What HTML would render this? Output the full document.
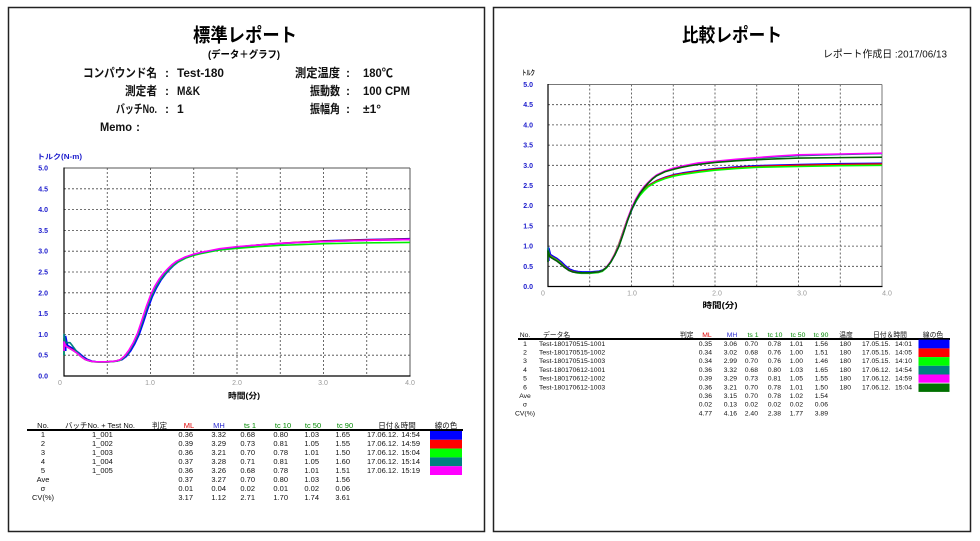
<!DOCTYPE html>
<html><head><meta charset="utf-8"><style>
html,body{margin:0;padding:0;background:#fff;}
svg{display:block;}
text{font-family:"Liberation Sans","Noto Sans CJK JP",sans-serif;}
.b{font-weight:bold;}
.yt{font-size:7px;font-weight:bold;fill:#1a1acc;text-anchor:end;}
.xt{font-size:7px;fill:#999;text-anchor:middle;}
.grid line{stroke:#444;stroke-width:0.8;stroke-dasharray:2,2;}
.cv polyline{fill:none;stroke-width:1.6;vector-effect:non-scaling-stroke;stroke-linejoin:round;}
.lt{font-size:7.5px;fill:#111;}
.rt{font-size:6.8px;fill:#111;}
.e{text-anchor:end;}
.m{text-anchor:middle;}
</style></head><body>
<svg width="980" height="541" viewBox="0 0 980 541" xmlns="http://www.w3.org/2000/svg">
<rect x="0" y="0" width="980" height="541" fill="#fff"/>
<!-- panels -->
<rect x="8.5" y="7.5" width="476" height="524" fill="#fff" stroke="#222" stroke-width="1.5"/>
<rect x="493.5" y="7.5" width="477" height="524" fill="#fff" stroke="#222" stroke-width="1.5"/>

<!-- ============ LEFT PANEL ============ -->
<text x="245" y="41.5" class="b m" font-size="19" textLength="104" lengthAdjust="spacingAndGlyphs">標準レポート</text>
<text x="244" y="58" class="b m" font-size="10" textLength="72" lengthAdjust="spacingAndGlyphs">(データ＋グラフ)</text>

<g font-size="12" font-weight="bold" fill="#111">
<text x="83" y="77" textLength="74" lengthAdjust="spacingAndGlyphs">コンパウンド名</text>
<text x="165" y="77">:</text>
<text x="177" y="77" textLength="47" lengthAdjust="spacingAndGlyphs">Test-180</text>
<text x="125" y="95" textLength="32" lengthAdjust="spacingAndGlyphs">測定者</text>
<text x="165" y="95">:</text>
<text x="177" y="95" textLength="23" lengthAdjust="spacingAndGlyphs">M&amp;K</text>
<text x="116" y="113" textLength="41" lengthAdjust="spacingAndGlyphs">バッチNo.</text>
<text x="165" y="113">:</text>
<text x="177" y="113">1</text>
<text x="100" y="131" textLength="32" lengthAdjust="spacingAndGlyphs">Memo</text>
<text x="136" y="131">:</text>
<text x="295" y="77" textLength="45" lengthAdjust="spacingAndGlyphs">測定温度</text>
<text x="346" y="77">:</text>
<text x="363" y="77" textLength="30" lengthAdjust="spacingAndGlyphs">180℃</text>
<text x="310" y="95" textLength="30" lengthAdjust="spacingAndGlyphs">振動数</text>
<text x="346" y="95">:</text>
<text x="363" y="95" textLength="47" lengthAdjust="spacingAndGlyphs">100 CPM</text>
<text x="310" y="113" textLength="30" lengthAdjust="spacingAndGlyphs">振幅角</text>
<text x="346" y="113">:</text>
<text x="363" y="113" font-family="Liberation Sans, sans-serif">±1°</text>
</g>

<text x="37" y="159" font-size="7" font-weight="bold" fill="#1a1acc" textLength="45" lengthAdjust="spacingAndGlyphs">トルク(N-m)</text>
<g>
<text class="yt" x="48" y="378.5">0.0</text>
<text class="yt" x="48" y="357.7">0.5</text>
<text class="yt" x="48" y="336.9">1.0</text>
<text class="yt" x="48" y="316.1">1.5</text>
<text class="yt" x="48" y="295.3">2.0</text>
<text class="yt" x="48" y="274.5">2.5</text>
<text class="yt" x="48" y="253.7">3.0</text>
<text class="yt" x="48" y="232.9">3.5</text>
<text class="yt" x="48" y="212.1">4.0</text>
<text class="yt" x="48" y="191.3">4.5</text>
<text class="yt" x="48" y="170.5">5.0</text>
</g>
<g class="grid">
<line x1="107.25" y1="168" x2="107.25" y2="376"/><line x1="150.5" y1="168" x2="150.5" y2="376"/>
<line x1="193.75" y1="168" x2="193.75" y2="376"/><line x1="237" y1="168" x2="237" y2="376"/>
<line x1="280.25" y1="168" x2="280.25" y2="376"/><line x1="323.5" y1="168" x2="323.5" y2="376"/>
<line x1="366.75" y1="168" x2="366.75" y2="376"/>
<line x1="64" y1="355.2" x2="410" y2="355.2"/><line x1="64" y1="334.4" x2="410" y2="334.4"/>
<line x1="64" y1="313.6" x2="410" y2="313.6"/><line x1="64" y1="292.8" x2="410" y2="292.8"/>
<line x1="64" y1="272" x2="410" y2="272"/><line x1="64" y1="251.2" x2="410" y2="251.2"/>
<line x1="64" y1="230.4" x2="410" y2="230.4"/><line x1="64" y1="209.6" x2="410" y2="209.6"/>
<line x1="64" y1="188.8" x2="410" y2="188.8"/>
</g>
<line x1="64" y1="168" x2="410" y2="168" stroke="#555" stroke-width="1"/>
<line x1="410" y1="168" x2="410" y2="376" stroke="#555" stroke-width="1"/>
<line x1="64" y1="167.5" x2="64" y2="376.5" stroke="#000" stroke-width="1.2"/>
<line x1="63.5" y1="376" x2="410.5" y2="376" stroke="#000" stroke-width="1.2"/>

<g class="cv" transform="translate(64,376) scale(86.5,-41.6)">
<polyline stroke="#0000ff" transform="translate(0.02,0)" points="0,0.6 0,0.95 0.02,0.74 0.05,0.7 0.1,0.64 0.15,0.56 0.2,0.47 0.25,0.4 0.3,0.36 0.35,0.345 0.4,0.34 0.5,0.34 0.6,0.36 0.65,0.39 0.7,0.47 0.75,0.6 0.8,0.78 0.85,1.0 0.9,1.3 0.95,1.62 1.0,1.9 1.05,2.12 1.1,2.3 1.15,2.44 1.2,2.56 1.25,2.66 1.3,2.74 1.4,2.85 1.5,2.92 1.6,2.97 1.7,3.01 1.8,3.05 2.0,3.1 2.25,3.15 2.5,3.19 2.75,3.22 3.0,3.25 3.5,3.28 3.98,3.3"/>
<polyline stroke="#ff0000" points="0,0.6 0,0.9 0.02,0.72 0.05,0.69 0.1,0.63 0.15,0.56 0.2,0.47 0.25,0.4 0.3,0.36 0.35,0.345 0.4,0.34 0.5,0.34 0.6,0.36 0.65,0.39 0.7,0.47 0.75,0.6 0.8,0.78 0.85,1.0 0.9,1.3 0.95,1.62 1.0,1.9 1.05,2.12 1.1,2.3 1.15,2.44 1.2,2.56 1.25,2.66 1.3,2.74 1.4,2.85 1.5,2.92 1.6,2.97 1.7,3.01 1.8,3.05 2.0,3.1 2.25,3.15 2.5,3.19 2.75,3.22 3.0,3.24 3.5,3.27 4.0,3.29"/>
<polyline stroke="#00ee00" points="0,0.5 0,0.85 0.02,0.72 0.05,0.68 0.1,0.62 0.15,0.55 0.2,0.46 0.25,0.39 0.3,0.355 0.35,0.34 0.4,0.335 0.5,0.335 0.6,0.355 0.65,0.38 0.7,0.46 0.75,0.59 0.8,0.77 0.85,0.98 0.9,1.28 0.95,1.6 1.0,1.88 1.05,2.1 1.1,2.28 1.15,2.42 1.2,2.54 1.25,2.64 1.3,2.72 1.4,2.83 1.5,2.9 1.6,2.95 1.7,2.99 1.8,3.03 2.0,3.07 2.25,3.11 2.5,3.14 2.75,3.16 3.0,3.18 3.5,3.2 4.0,3.21"/>
<polyline stroke="#008080" points="0,0.5 0,1.0 0.02,0.8 0.07,0.8 0.1,0.72 0.15,0.58 0.2,0.48 0.25,0.4 0.3,0.36 0.35,0.345 0.4,0.34 0.5,0.34 0.6,0.36 0.65,0.39 0.7,0.47 0.75,0.6 0.8,0.78 0.85,1.0 0.9,1.3 0.95,1.62 1.0,1.9 1.05,2.12 1.1,2.3 1.15,2.44 1.2,2.56 1.25,2.66 1.3,2.74 1.4,2.85 1.5,2.92 1.6,2.97 1.7,3.01 1.8,3.05 2.0,3.1 2.25,3.15 2.5,3.18 2.75,3.21 3.0,3.23 3.5,3.26 4.0,3.28"/>
<polyline stroke="#ff00ff" points="0,0.6 0,0.82 0.02,0.72 0.05,0.68 0.1,0.62 0.15,0.55 0.2,0.46 0.25,0.39 0.3,0.36 0.35,0.345 0.4,0.34 0.5,0.34 0.6,0.36 0.65,0.39 0.7,0.48 0.75,0.62 0.8,0.8 0.85,1.03 0.9,1.34 0.95,1.66 1.0,1.94 1.05,2.16 1.1,2.33 1.15,2.47 1.2,2.58 1.25,2.68 1.3,2.76 1.4,2.86 1.5,2.93 1.6,2.98 1.7,3.02 1.8,3.06 2.0,3.11 2.25,3.15 2.5,3.19 2.75,3.21 3.0,3.23 3.5,3.26 4.0,3.28"/>
</g>

<text class="xt" x="60" y="385">0</text>
<text class="xt" x="150" y="385">1.0</text>
<text class="xt" x="237" y="385">2.0</text>
<text class="xt" x="323" y="385">3.0</text>
<text class="xt" x="410" y="385">4.0</text>
<text x="244" y="398.5" class="b m" font-size="8" textLength="32" lengthAdjust="spacingAndGlyphs">時間(分)</text>

<!-- left table -->
<g class="lt">
<text x="43" y="428" class="m">No.</text>
<text x="65" y="428" textLength="70" lengthAdjust="spacingAndGlyphs">バッチNo. + Test No.</text>
<text x="152" y="428">判定</text>
<text x="189" y="428" class="m" fill="#e00000">ML</text>
<text x="219" y="428" class="m" fill="#2b2bd0">MH</text>
<text x="250" y="428" class="m" fill="#008800">ts 1</text>
<text x="283" y="428" class="m" fill="#008800">tc 10</text>
<text x="313" y="428" class="m" fill="#008800">tc 50</text>
<text x="345" y="428" class="m" fill="#008800">tc 90</text>
<text x="397" y="428" class="m">日付＆時間</text>
<text x="446" y="428" class="m">線の色</text>
</g>
<line x1="27" y1="430" x2="463" y2="430" stroke="#000" stroke-width="2"/>
<g>
<rect x="430" y="431" width="32" height="8.8" fill="#0000ff"/>
<rect x="430" y="439.8" width="32" height="8.8" fill="#ff0000"/>
<rect x="430" y="448.6" width="32" height="8.8" fill="#00ff00"/>
<rect x="430" y="457.4" width="32" height="8.8" fill="#008080"/>
<rect x="430" y="466.2" width="32" height="8.8" fill="#ff00ff"/>
</g>
<g class="lt">
<g class="m"><text x="43" y="437">1</text><text x="43" y="446">2</text><text x="43" y="455">3</text><text x="43" y="464">4</text><text x="43" y="473">5</text><text x="43" y="482">Ave</text><text x="43" y="491">σ</text><text x="43" y="500">CV(%)</text></g>
<text x="92" y="437">1_001</text><text x="92" y="446">1_002</text><text x="92" y="455">1_003</text><text x="92" y="464">1_004</text><text x="92" y="473">1_005</text>
<g class="e">
<text x="193" y="437">0.36</text><text x="193" y="446">0.39</text><text x="193" y="455">0.36</text><text x="193" y="464">0.37</text><text x="193" y="473">0.36</text><text x="193" y="482">0.37</text><text x="193" y="491">0.01</text><text x="193" y="500">3.17</text>
<text x="226" y="437">3.32</text><text x="226" y="446">3.29</text><text x="226" y="455">3.21</text><text x="226" y="464">3.28</text><text x="226" y="473">3.26</text><text x="226" y="482">3.27</text><text x="226" y="491">0.04</text><text x="226" y="500">1.12</text>
<text x="255" y="437">0.68</text><text x="255" y="446">0.73</text><text x="255" y="455">0.70</text><text x="255" y="464">0.71</text><text x="255" y="473">0.68</text><text x="255" y="482">0.70</text><text x="255" y="491">0.02</text><text x="255" y="500">2.71</text>
<text x="288" y="437">0.80</text><text x="288" y="446">0.81</text><text x="288" y="455">0.78</text><text x="288" y="464">0.81</text><text x="288" y="473">0.78</text><text x="288" y="482">0.80</text><text x="288" y="491">0.01</text><text x="288" y="500">1.70</text>
<text x="319" y="437">1.03</text><text x="319" y="446">1.05</text><text x="319" y="455">1.01</text><text x="319" y="464">1.05</text><text x="319" y="473">1.01</text><text x="319" y="482">1.03</text><text x="319" y="491">0.02</text><text x="319" y="500">1.74</text>
<text x="350" y="437">1.65</text><text x="350" y="446">1.55</text><text x="350" y="455">1.50</text><text x="350" y="464">1.60</text><text x="350" y="473">1.51</text><text x="350" y="482">1.56</text><text x="350" y="491">0.06</text><text x="350" y="500">3.61</text>
<text x="420" y="437">14:54</text><text x="420" y="446">14:59</text><text x="420" y="455">15:04</text><text x="420" y="464">15:14</text><text x="420" y="473">15:19</text>
</g>
<text x="367" y="437">17.06.12.</text><text x="367" y="446">17.06.12.</text><text x="367" y="455">17.06.12.</text><text x="367" y="464">17.06.12.</text><text x="367" y="473">17.06.12.</text>
</g>

<!-- ============ RIGHT PANEL ============ -->
<text x="732" y="41.5" class="b m" font-size="19" textLength="100" lengthAdjust="spacingAndGlyphs">比較レポート</text>
<text x="823" y="57.5" font-size="10" fill="#111" textLength="124" lengthAdjust="spacingAndGlyphs">レポート作成日 :2017/06/13</text>
<text x="522" y="75" font-size="7" font-weight="bold" fill="#111" textLength="13" lengthAdjust="spacingAndGlyphs">トルク</text>
<g>
<text class="yt" x="533" y="289">0.0</text>
<text class="yt" x="533" y="268.8">0.5</text>
<text class="yt" x="533" y="248.6">1.0</text>
<text class="yt" x="533" y="228.4">1.5</text>
<text class="yt" x="533" y="208.2">2.0</text>
<text class="yt" x="533" y="188">2.5</text>
<text class="yt" x="533" y="167.8">3.0</text>
<text class="yt" x="533" y="147.6">3.5</text>
<text class="yt" x="533" y="127.4">4.0</text>
<text class="yt" x="533" y="107.2">4.5</text>
<text class="yt" x="533" y="87">5.0</text>
</g>
<g class="grid">
<line x1="589.75" y1="84.5" x2="589.75" y2="286.5"/><line x1="631.5" y1="84.5" x2="631.5" y2="286.5"/>
<line x1="673.25" y1="84.5" x2="673.25" y2="286.5"/><line x1="715" y1="84.5" x2="715" y2="286.5"/>
<line x1="756.75" y1="84.5" x2="756.75" y2="286.5"/><line x1="798.5" y1="84.5" x2="798.5" y2="286.5"/>
<line x1="840.25" y1="84.5" x2="840.25" y2="286.5"/>
<line x1="548" y1="266.3" x2="882" y2="266.3"/><line x1="548" y1="246.1" x2="882" y2="246.1"/>
<line x1="548" y1="225.9" x2="882" y2="225.9"/><line x1="548" y1="205.7" x2="882" y2="205.7"/>
<line x1="548" y1="185.5" x2="882" y2="185.5"/><line x1="548" y1="165.3" x2="882" y2="165.3"/>
<line x1="548" y1="145.1" x2="882" y2="145.1"/><line x1="548" y1="124.9" x2="882" y2="124.9"/>
<line x1="548" y1="104.7" x2="882" y2="104.7"/>
</g>
<line x1="548" y1="84.5" x2="882" y2="84.5" stroke="#777" stroke-width="1"/>
<line x1="882" y1="84.5" x2="882" y2="286.5" stroke="#777" stroke-width="1"/>
<line x1="548" y1="84" x2="548" y2="287" stroke="#000" stroke-width="1.2"/>
<line x1="547.5" y1="286.5" x2="882.5" y2="286.5" stroke="#000" stroke-width="1.2"/>

<g class="cv" transform="translate(548,286.5) scale(83.5,-40.4)">
<polyline stroke="#0000ff" transform="translate(0.01,0.03)" points="0,0.6 0,0.92 0.02,0.76 0.05,0.72 0.1,0.66 0.15,0.58 0.2,0.48 0.25,0.4 0.3,0.36 0.35,0.34 0.4,0.33 0.5,0.33 0.6,0.35 0.65,0.38 0.7,0.46 0.75,0.6 0.8,0.8 0.85,1.05 0.9,1.35 0.95,1.65 1.0,1.9 1.05,2.1 1.1,2.26 1.15,2.38 1.2,2.48 1.3,2.6 1.4,2.68 1.5,2.74 1.6,2.78 1.8,2.84 2.0,2.89 2.25,2.93 2.5,2.96 3.0,2.99 3.5,3.01 3.99,3.02"/>
<polyline stroke="#ff0000" transform="translate(0,0.01)" points="0,0.6 0,0.92 0.02,0.76 0.05,0.72 0.1,0.66 0.15,0.58 0.2,0.48 0.25,0.4 0.3,0.36 0.35,0.34 0.4,0.33 0.5,0.33 0.6,0.35 0.65,0.38 0.7,0.46 0.75,0.6 0.8,0.8 0.85,1.05 0.9,1.35 0.95,1.65 1.0,1.9 1.05,2.1 1.1,2.26 1.15,2.38 1.2,2.48 1.3,2.6 1.4,2.68 1.5,2.74 1.6,2.78 1.8,2.84 2.0,2.89 2.25,2.93 2.5,2.96 3.0,2.99 3.5,3.01 4.0,3.02"/>
<polyline stroke="#00ff00" points="0,0.6 0,0.9 0.02,0.76 0.05,0.72 0.1,0.66 0.15,0.58 0.2,0.48 0.25,0.4 0.3,0.36 0.35,0.335 0.4,0.325 0.5,0.325 0.6,0.345 0.65,0.375 0.7,0.46 0.75,0.6 0.8,0.8 0.85,1.05 0.9,1.35 0.95,1.65 1.0,1.9 1.05,2.1 1.1,2.25 1.15,2.37 1.2,2.47 1.3,2.59 1.4,2.67 1.5,2.73 1.6,2.77 1.8,2.83 2.0,2.88 2.25,2.92 2.5,2.95 3.0,2.97 3.5,2.99 4.0,3.0"/>
<polyline stroke="#008080" points="0,0.6 0,0.95 0.02,0.74 0.05,0.7 0.1,0.64 0.15,0.56 0.2,0.47 0.25,0.4 0.3,0.36 0.35,0.345 0.4,0.34 0.5,0.34 0.6,0.36 0.65,0.39 0.7,0.47 0.75,0.6 0.8,0.78 0.85,1.0 0.9,1.3 0.95,1.62 1.0,1.9 1.05,2.12 1.1,2.3 1.15,2.44 1.2,2.56 1.25,2.66 1.3,2.74 1.4,2.85 1.5,2.92 1.6,2.97 1.7,3.01 1.8,3.05 2.0,3.09 2.25,3.14 2.5,3.18 2.75,3.21 3.0,3.24 3.5,3.27 4.0,3.29"/>
<polyline stroke="#ff00ff" points="0,0.6 0,0.85 0.02,0.74 0.05,0.7 0.1,0.64 0.15,0.56 0.2,0.47 0.25,0.4 0.3,0.36 0.35,0.345 0.4,0.34 0.5,0.34 0.6,0.36 0.65,0.39 0.7,0.48 0.75,0.62 0.8,0.8 0.85,1.03 0.9,1.34 0.95,1.66 1.0,1.94 1.05,2.16 1.1,2.33 1.15,2.47 1.2,2.58 1.25,2.68 1.3,2.76 1.4,2.86 1.5,2.93 1.6,2.98 1.7,3.02 1.8,3.06 2.0,3.1 2.25,3.15 2.5,3.19 2.75,3.23 3.0,3.26 3.5,3.28 4.0,3.3"/>
<polyline stroke="#006400" points="0,0.6 0,0.88 0.02,0.74 0.05,0.7 0.1,0.64 0.15,0.56 0.2,0.47 0.25,0.4 0.3,0.36 0.35,0.345 0.4,0.34 0.5,0.34 0.6,0.36 0.65,0.39 0.7,0.47 0.75,0.6 0.8,0.78 0.85,1.0 0.9,1.3 0.95,1.62 1.0,1.9 1.05,2.12 1.1,2.3 1.15,2.44 1.2,2.56 1.25,2.66 1.3,2.74 1.4,2.84 1.5,2.9 1.6,2.95 1.7,2.99 1.8,3.02 2.0,3.07 2.25,3.11 2.5,3.14 2.75,3.16 3.0,3.18 3.5,3.19 4.0,3.2"/>
</g>

<text class="xt" x="543" y="295.5">0</text>
<text class="xt" x="632" y="295.5">1.0</text>
<text class="xt" x="717" y="295.5">2.0</text>
<text class="xt" x="802" y="295.5">3.0</text>
<text class="xt" x="887" y="295.5">4.0</text>
<text x="720" y="308" class="b m" font-size="8" textLength="35" lengthAdjust="spacingAndGlyphs">時間(分)</text>

<!-- right table -->
<g class="rt">
<text x="525" y="337" class="m">No.</text>
<text x="543" y="337">データ名</text>
<text x="680" y="337">判定</text>
<text x="707" y="337" class="m" fill="#e00000">ML</text>
<text x="732" y="337" class="m" fill="#2b2bd0">MH</text>
<text x="753" y="337" class="m" fill="#008800">ts 1</text>
<text x="775" y="337" class="m" fill="#008800">tc 10</text>
<text x="798" y="337" class="m" fill="#008800">tc 50</text>
<text x="821" y="337" class="m" fill="#008800">tc 90</text>
<text x="846" y="337" class="m">温度</text>
<text x="890" y="337" class="m">日付＆時間</text>
<text x="933" y="337" class="m">線の色</text>
</g>
<line x1="518" y1="339" x2="950" y2="339" stroke="#000" stroke-width="2"/>
<g>
<rect x="918.5" y="339.7" width="31" height="8.7" fill="#0000ff"/>
<rect x="918.5" y="348.4" width="31" height="8.7" fill="#ff0000"/>
<rect x="918.5" y="357.1" width="31" height="8.7" fill="#00ff00"/>
<rect x="918.5" y="365.8" width="31" height="8.7" fill="#008080"/>
<rect x="918.5" y="374.5" width="31" height="8.2" fill="#ff00ff"/>
<rect x="918.5" y="383.5" width="31" height="8.4" fill="#007000"/>
</g>
<g class="rt">
<g class="m"><text x="525" y="345.8">1</text><text x="525" y="354.5">2</text><text x="525" y="363.2">3</text><text x="525" y="371.9">4</text><text x="525" y="380.6">5</text><text x="525" y="389.3">6</text><text x="525" y="398">Ave</text><text x="525" y="406.7">σ</text><text x="525" y="415.4">CV(%)</text></g>
<text x="539" y="345.8">Test-180170515-1001</text><text x="539" y="354.5">Test-180170515-1002</text><text x="539" y="363.2">Test-180170515-1003</text><text x="539" y="371.9">Test-180170612-1001</text><text x="539" y="380.6">Test-180170612-1002</text><text x="539" y="389.3">Test-180170612-1003</text>
<g class="e">
<text x="712" y="345.8">0.35</text><text x="712" y="354.5">0.34</text><text x="712" y="363.2">0.34</text><text x="712" y="371.9">0.36</text><text x="712" y="380.6">0.39</text><text x="712" y="389.3">0.36</text><text x="712" y="398">0.36</text><text x="712" y="406.7">0.02</text><text x="712" y="415.4">4.77</text>
<text x="737" y="345.8">3.06</text><text x="737" y="354.5">3.02</text><text x="737" y="363.2">2.99</text><text x="737" y="371.9">3.32</text><text x="737" y="380.6">3.29</text><text x="737" y="389.3">3.21</text><text x="737" y="398">3.15</text><text x="737" y="406.7">0.13</text><text x="737" y="415.4">4.16</text>
<text x="758" y="345.8">0.70</text><text x="758" y="354.5">0.68</text><text x="758" y="363.2">0.70</text><text x="758" y="371.9">0.68</text><text x="758" y="380.6">0.73</text><text x="758" y="389.3">0.70</text><text x="758" y="398">0.70</text><text x="758" y="406.7">0.02</text><text x="758" y="415.4">2.40</text>
<text x="781" y="345.8">0.78</text><text x="781" y="354.5">0.76</text><text x="781" y="363.2">0.76</text><text x="781" y="371.9">0.80</text><text x="781" y="380.6">0.81</text><text x="781" y="389.3">0.78</text><text x="781" y="398">0.78</text><text x="781" y="406.7">0.02</text><text x="781" y="415.4">2.38</text>
<text x="803" y="345.8">1.01</text><text x="803" y="354.5">1.00</text><text x="803" y="363.2">1.00</text><text x="803" y="371.9">1.03</text><text x="803" y="380.6">1.05</text><text x="803" y="389.3">1.01</text><text x="803" y="398">1.02</text><text x="803" y="406.7">0.02</text><text x="803" y="415.4">1.77</text>
<text x="828" y="345.8">1.56</text><text x="828" y="354.5">1.51</text><text x="828" y="363.2">1.46</text><text x="828" y="371.9">1.65</text><text x="828" y="380.6">1.55</text><text x="828" y="389.3">1.50</text><text x="828" y="398">1.54</text><text x="828" y="406.7">0.06</text><text x="828" y="415.4">3.89</text>
<text x="851" y="345.8">180</text><text x="851" y="354.5">180</text><text x="851" y="363.2">180</text><text x="851" y="371.9">180</text><text x="851" y="380.6">180</text><text x="851" y="389.3">180</text>
<text x="912" y="345.8">14:01</text><text x="912" y="354.5">14:05</text><text x="912" y="363.2">14:10</text><text x="912" y="371.9">14:54</text><text x="912" y="380.6">14:59</text><text x="912" y="389.3">15:04</text>
</g>
<text x="862" y="345.8">17.05.15.</text><text x="862" y="354.5">17.05.15.</text><text x="862" y="363.2">17.05.15.</text><text x="862" y="371.9">17.06.12.</text><text x="862" y="380.6">17.06.12.</text><text x="862" y="389.3">17.06.12.</text>
</g>
</svg>
</body></html>
